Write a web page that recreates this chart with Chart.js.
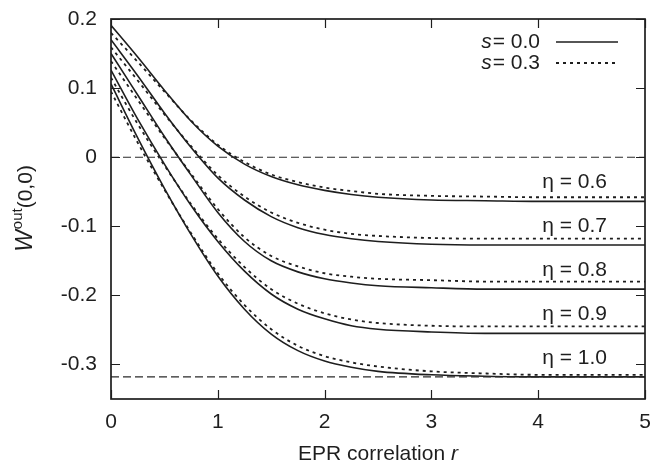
<!DOCTYPE html>
<html>
<head>
<meta charset="utf-8">
<script src="https://cdn.jsdelivr.net/npm/chart.js@4/dist/chart.umd.min.js"></script>
<style>
  html, body { margin: 0; padding: 0; background: #fff; }
  #wrap { width: 650px; height: 466px; }
</style>
</head>
<body>
<div id="wrap"><canvas id="chart" width="650" height="466"></canvas></div>
<script>
// ── Data ──────────────────────────────────────────────────────────
const rValues = [0, 0.25, 0.5, 0.75, 1, 1.25, 1.5, 1.75, 2, 2.25, 2.5, 3, 3.5, 4, 4.5, 5];
const etaLabels = ['0.6', '0.7', '0.8', '0.9', '1.0'];

// s = 0.0 (solid)
const s00_eta06 = [0.191, 0.145, 0.097, 0.052, 0.016, -0.010, -0.028, -0.040, -0.048, -0.054, -0.058, -0.062, -0.063, -0.064, -0.064, -0.064];
const s00_eta07 = [0.170, 0.118, 0.064, 0.014, -0.030, -0.062, -0.086, -0.102, -0.112, -0.118, -0.122, -0.126, -0.127, -0.127, -0.127, -0.127];
const s00_eta08 = [0.150, 0.090, 0.030, -0.026, -0.080, -0.122, -0.150, -0.166, -0.176, -0.182, -0.186, -0.189, -0.191, -0.191, -0.191, -0.191];
const s00_eta09 = [0.126, 0.055, -0.010, -0.070, -0.122, -0.165, -0.198, -0.220, -0.234, -0.244, -0.249, -0.253, -0.255, -0.255, -0.255, -0.255];
const s00_eta10 = [0.106, 0.028, -0.045, -0.112, -0.172, -0.220, -0.256, -0.280, -0.295, -0.304, -0.310, -0.315, -0.317, -0.318, -0.318, -0.318];

// s = 0.3 (dotted)
const s03_eta06 = [0.180, 0.138, 0.095, 0.053, 0.018, -0.007, -0.025, -0.036, -0.044, -0.049, -0.053, -0.056, -0.057, -0.058, -0.058, -0.058];
const s03_eta07 = [0.159, 0.111, 0.062, 0.016, -0.026, -0.057, -0.080, -0.095, -0.105, -0.111, -0.114, -0.117, -0.118, -0.118, -0.118, -0.118];
const s03_eta08 = [0.139, 0.083, 0.028, -0.024, -0.075, -0.116, -0.143, -0.158, -0.168, -0.173, -0.176, -0.178, -0.180, -0.180, -0.180, -0.180];
const s03_eta09 = [0.115, 0.048, -0.012, -0.068, -0.118, -0.159, -0.191, -0.212, -0.226, -0.235, -0.240, -0.244, -0.245, -0.245, -0.245, -0.245];
const s03_eta10 = [0.095, 0.021, -0.047, -0.110, -0.168, -0.214, -0.249, -0.273, -0.288, -0.297, -0.303, -0.310, -0.313, -0.315, -0.315, -0.315];

// dashed reference levels: 0 and -1/pi
const refLevels = [0, -0.318];
const refRange = [0, 5];

const xTicks = [0, 1, 2, 3, 4, 5];
const yTicks = [-0.3, -0.2, -0.1, 0, 0.1, 0.2];
const yTickLabels = ['-0.3', '-0.2', '-0.1', '0', '0.1', '0.2'];

const solidSeries = [s00_eta06, s00_eta07, s00_eta08, s00_eta09, s00_eta10];
const dottedSeries = [s03_eta06, s03_eta07, s03_eta08, s03_eta09, s03_eta10];

// ── Styling ───────────────────────────────────────────────────────
const INK = '#1e1e1e';
const FONT = '"Liberation Sans", Arial, Helvetica, sans-serif';
const FS = 21;

const toPoints = vals => vals.map((v, i) => ({ x: rValues[i], y: v }));

function curve(vals, dashed) {
  return {
    data: toPoints(vals),
    borderColor: INK,
    borderWidth: dashed ? 1.8 : 1.6,
    borderDash: dashed ? [3, 4] : [],
    pointRadius: 0,
    fill: false,
    cubicInterpolationMode: 'monotone',
  };
}

const datasets = [];
refLevels.forEach(lv => datasets.push({
  data: refRange.map(x => ({ x, y: lv })),
  borderColor: '#2a2a2a',
  borderWidth: 1.1,
  borderDash: [8, 4],
  pointRadius: 0,
  fill: false,
}));
solidSeries.forEach(s => datasets.push(curve(s, false)));
dottedSeries.forEach(s => datasets.push(curve(s, true)));

// ── Frame, inward ticks, legend and text labels ───────────────────
const decorPlugin = {
  id: 'decor',
  afterDraw(chart) {
    const { ctx, chartArea: a, scales: { x, y } } = chart;
    ctx.save();

    // frame
    ctx.strokeStyle = INK;
    ctx.lineWidth = 1.7;
    ctx.setLineDash([]);
    ctx.strokeRect(a.left, a.top, a.right - a.left, a.bottom - a.top);

    // mirrored inward ticks
    const TL = 9;
    ctx.lineWidth = 1.2;
    ctx.beginPath();
    yTicks.forEach(v => {
      const py = Math.round(y.getPixelForValue(v)) + 0.5;
      ctx.moveTo(a.left, py); ctx.lineTo(a.left + TL, py);
      ctx.moveTo(a.right, py); ctx.lineTo(a.right - TL, py);
    });
    xTicks.forEach(v => {
      const px = Math.round(x.getPixelForValue(v)) + 0.5;
      ctx.moveTo(px, a.bottom); ctx.lineTo(px, a.bottom - TL);
      ctx.moveTo(px, a.top); ctx.lineTo(px, a.top + TL);
    });
    ctx.stroke();

    ctx.fillStyle = INK;
    ctx.textBaseline = 'middle';

    // legend (text right-aligned, sample to the right)
    const legendRows = [{ val: '0.0', dash: [] }, { val: '0.3', dash: [3, 4] }];
    legendRows.forEach((row, i) => {
      const ly = a.top + 23 + i * 21;
      ctx.font = FS + 'px ' + FONT;
      const rest = '= ' + row.val;
      const restW = ctx.measureText(rest).width;
      const textRight = a.right - 105;
      ctx.textAlign = 'right';
      ctx.fillText(rest, textRight, ly);
      ctx.font = 'italic ' + FS + 'px ' + FONT;
      ctx.fillText('s', textRight - restW - 1, ly);
      ctx.beginPath();
      ctx.setLineDash(row.dash);
      ctx.lineWidth = row.dash.length ? 1.8 : 1.6;
      ctx.moveTo(a.right - 89, ly);
      ctx.lineTo(a.right - 27, ly);
      ctx.stroke();
    });
    ctx.setLineDash([]);

    // eta labels just above each asymptote
    ctx.font = FS + 'px ' + FONT;
    ctx.textAlign = 'right';
    solidSeries.forEach((s, i) => {
      const py = y.getPixelForValue(s[s.length - 1]) - 19;
      ctx.fillText('\u03b7 = ' + etaLabels[i], a.right - 38, py);
    });

    // x axis title
    const cx = (a.left + a.right) / 2;
    ctx.font = FS + 'px ' + FONT;
    const part1 = 'EPR correlation ';
    const w1 = ctx.measureText(part1).width;
    ctx.font = 'italic ' + FS + 'px ' + FONT;
    const w2 = ctx.measureText('r').width;
    const sx = cx - (w1 + w2) / 2;
    ctx.textAlign = 'left';
    ctx.font = FS + 'px ' + FONT;
    ctx.fillText(part1, sx, 454);
    ctx.font = 'italic ' + FS + 'px ' + FONT;
    ctx.fillText('r', sx + w1, 454);

    // y axis title: W^out(0,0)
    ctx.translate(26, (a.top + a.bottom) / 2);
    ctx.rotate(-Math.PI / 2);
    ctx.font = 'italic 23px ' + FONT;
    const wW = ctx.measureText('W').width;
    ctx.font = '15px ' + FONT;
    const wO = ctx.measureText('out').width;
    ctx.font = FS + 'px ' + FONT;
    const wP = ctx.measureText('(0,0)').width;
    let tx = -(wW + wO + wP) / 2;
    ctx.textAlign = 'left';
    ctx.font = 'italic 23px ' + FONT;
    ctx.fillText('W', tx, 0);
    tx += wW + 1;
    ctx.font = '15px ' + FONT;
    ctx.fillText('out', tx, -8);
    tx += wO;
    ctx.font = FS + 'px ' + FONT;
    ctx.fillText('(0,0)', tx, 0);

    ctx.restore();
  },
};

new Chart(document.getElementById('chart'), {
  type: 'line',
  data: { datasets },
  options: {
    responsive: false,
    animation: false,
    devicePixelRatio: 1,
    layout: { padding: { top: 19, right: 5, left: 0, bottom: 0 } },
    plugins: { legend: { display: false }, tooltip: { enabled: false } },
    scales: {
      x: {
        type: 'linear',
        min: 0,
        max: 5,
        afterFit: s => { s.height = 67; s.paddingLeft = 0; s.paddingRight = 0; },
        afterBuildTicks: s => { s.ticks = xTicks.map(v => ({ value: v })); },
        grid: { display: false, drawTicks: false },
        border: { display: false },
        ticks: {
          color: INK,
          padding: 11,
          maxRotation: 0,
          font: { family: FONT, size: FS },
          callback: v => String(v),
        },
      },
      y: {
        type: 'linear',
        min: -0.35,
        max: 0.2,
        afterFit: s => { s.width = 111; s.paddingTop = 0; s.paddingBottom = 0; },
        afterBuildTicks: s => { s.ticks = yTicks.map(v => ({ value: v })); },
        grid: { display: false, drawTicks: false },
        border: { display: false },
        ticks: {
          color: INK,
          padding: 14,
          font: { family: FONT, size: FS },
          callback: v => yTickLabels[yTicks.indexOf(v)] ?? '',
        },
      },
    },
  },
  plugins: [decorPlugin],
});
</script>
</body>
</html>
